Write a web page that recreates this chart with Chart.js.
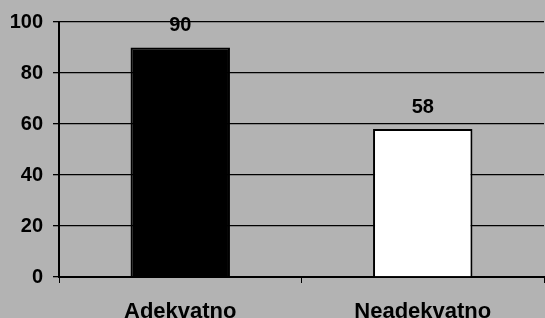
<!DOCTYPE html>
<html>
<head>
<meta charset="utf-8">
<script src="https://cdn.jsdelivr.net/npm/chart.js@4/dist/chart.umd.min.js"></script>
<style>
    html, body { margin: 0; padding: 0; background: #b3b3b3; }
    canvas { display: block; }
</style>
</head>
<body>
<canvas id="bar-chart" width="545" height="318"></canvas>
<script>
// chart data
const categories = ['Adekvatno', 'Neadekvatno'];
const values = [90, 58];
const barColors = ['#000000', '#ffffff'];
const yTicks = [0, 20, 40, 60, 80, 100];

const ctx = document.getElementById('bar-chart').getContext('2d');

// draw the value above each bar
const valueLabels = {
    id: 'valueLabels',
    afterDatasetsDraw(chart) {
        const c = chart.ctx;
        const meta = chart.getDatasetMeta(0);
        c.save();
        c.font = 'bold 20px "Liberation Sans", Arial, sans-serif';
        c.fillStyle = '#000';
        c.textAlign = 'center';
        c.textBaseline = 'alphabetic';
        meta.data.forEach((bar, i) => {
            c.fillText(String(values[i]), bar.x, bar.y - 16.5);
        });
        c.restore();
    }
};

new Chart(ctx, {
    type: 'bar',
    data: {
        labels: categories,
        datasets: [{
            data: values,
            backgroundColor: barColors,
            borderColor: '#000000',
            borderWidth: 2,
            barPercentage: 0.41,
            categoryPercentage: 1
        }]
    },
    options: {
        responsive: false,
        animation: false,
        layout: { padding: { top: 21, right: 1, left: 0, bottom: 0 } },
        plugins: {
            legend: { display: false },
            tooltip: { enabled: false }
        },
        scales: {
            x: {
                afterFit: (scale) => { scale.height = 41; },
                grid: {
                    offset: true,
                    drawOnChartArea: false,
                    color: '#000',
                    tickLength: 6
                },
                border: { color: '#000', width: 2 },
                ticks: {
                    color: '#000',
                    padding: 16,
                    font: { family: '"Liberation Sans", Arial, sans-serif', size: 22, weight: 'bold' }
                }
            },
            y: {
                min: 0,
                max: 100,
                afterFit: (scale) => { scale.width = 59; },
                afterBuildTicks: (scale) => { scale.ticks = yTicks.map(v => ({ value: v })); },
                grid: {
                    color: '#000',
                    lineWidth: 1.3,
                    tickLength: 6
                },
                border: { color: '#000', width: 2 },
                ticks: {
                    color: '#000',
                    padding: 10,
                    font: { family: '"Liberation Sans", Arial, sans-serif', size: 20, weight: 'bold' }
                }
            }
        }
    },
    plugins: [valueLabels]
});
</script>
</body>
</html>
